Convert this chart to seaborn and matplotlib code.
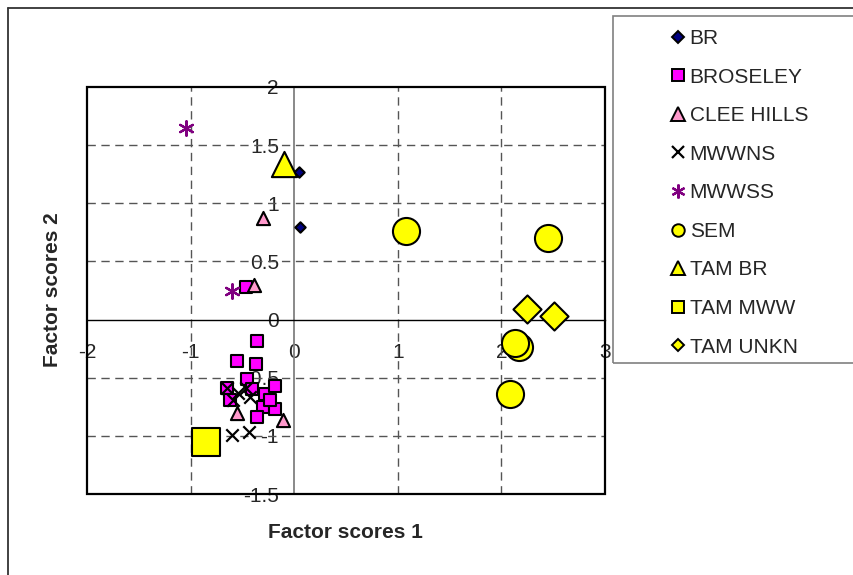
import pandas as pd
import matplotlib.pyplot as plt
import seaborn as sns
from matplotlib.lines import Line2D
from matplotlib.patches import Rectangle

# =====================
# DATA
# =====================
groups = ['BR', 'BROSELEY', 'CLEE HILLS', 'MWWNS', 'MWWSS',
          'SEM', 'TAM BR', 'TAM MWW', 'TAM UNKN']

br_x = [0.05, 0.055]
br_y = [1.27, 0.80]

broseley_x = [-0.36, -0.55, -0.37, -0.46, -0.65, -0.41, -0.28, -0.19,
              -0.62, -0.30, -0.19, -0.36, -0.23, -0.47]
broseley_y = [-0.18, -0.36, -0.38, -0.51, -0.59, -0.60, -0.64, -0.57,
              -0.69, -0.75, -0.77, -0.84, -0.69, 0.28]

clee_x = [-0.30, -0.39, -0.55, -0.11]
clee_y = [0.87, 0.30, -0.80, -0.86]

mwwns_x = [-0.65, -0.54, -0.47, -0.59, -0.43, -0.60, -0.44]
mwwns_y = [-0.59, -0.63, -0.59, -0.69, -0.67, -0.99, -0.97]

mwwss_x = [-1.04, -0.60]
mwwss_y = [1.65, 0.25]

sem_x = [1.08, 2.45, 2.17, 2.13, 2.08]
sem_y = [0.76, 0.70, -0.24, -0.20, -0.64]

tambr_x = [-0.10]
tambr_y = [1.34]

tammww_x = [-0.85]
tammww_y = [-1.05]

tamunkn_x = [2.25, 2.51]
tamunkn_y = [0.09, 0.03]

xticks = [-2, -1, 0, 1, 2, 3]
xtick_labels = ['-2', '-1', '0', '1', '2', '3']
yticks = [-1.5, -1, -0.5, 0, 0.5, 1, 1.5, 2]
ytick_labels = ['-1.5', '-1', '-0.5', '0', '0.5', '1', '1.5', '2']

all_x = [br_x, broseley_x, clee_x, mwwns_x, mwwss_x, sem_x, tambr_x, tammww_x, tamunkn_x]
all_y = [br_y, broseley_y, clee_y, mwwns_y, mwwss_y, sem_y, tambr_y, tammww_y, tamunkn_y]

rows = []
for g, xs, ys in zip(groups, all_x, all_y):
    for a, b in zip(xs, ys):
        rows.append({'group': g, 'f1': a, 'f2': b})
df = pd.DataFrame(rows)

# =====================
# STYLES
# =====================
asterisk = (6, 2, 0)
style = {
    'BR':         dict(marker='D', color='#000080', s=28,  ms=6),
    'BROSELEY':   dict(marker='s', color='#FF00FF', s=78,  ms=8.5),
    'CLEE HILLS': dict(marker='^', color='#FF99CC', s=90,  ms=9.5),
    'MWWNS':      dict(marker='x', color='black',   s=80,  ms=8.5),
    'MWWSS':      dict(marker=asterisk, color='#800080', s=110, ms=10),
    'SEM':        dict(marker='o', color='#FFFF00', s=380, ms=9),
    'TAM BR':     dict(marker='^', color='#FFFF00', s=330, ms=9.5),
    'TAM MWW':    dict(marker='s', color='#FFFF00', s=400, ms=8.5),
    'TAM UNKN':   dict(marker='D', color='#FFFF00', s=205, ms=6),
}
line_markers = ['x', asterisk]

sns.set_style('white')
plt.rcParams['font.family'] = ['Liberation Sans', 'DejaVu Sans']

fig = plt.figure(figsize=(8.54, 5.75), dpi=100)
ax = fig.add_axes([87 / 854, 1 - 494 / 575, 518 / 854, 407 / 575])

for g in groups:
    st = style[g]
    sub = df[df['group'] == g]
    if st['marker'] in line_markers:
        sns.scatterplot(data=sub, x='f1', y='f2', ax=ax, marker=st['marker'],
                        s=st['s'], color=st['color'], linewidth=1.6,
                        legend=False, zorder=3)
    else:
        sns.scatterplot(data=sub, x='f1', y='f2', ax=ax, marker=st['marker'],
                        s=st['s'], color=st['color'], edgecolor='black',
                        linewidth=1.5, legend=False, zorder=3)

ax.set_xlim(-2, 3)
ax.set_ylim(-1.5, 2)

# dashed grid
for v in [-1, 1, 2]:
    ax.axvline(v, color='#555555', lw=1, ls=(0, (6, 4)), zorder=1)
for v in [-1, -0.5, 0.5, 1, 1.5]:
    ax.axhline(v, color='#555555', lw=1, ls=(0, (6, 4)), zorder=1)

# axes crossing at the origin
for side in ['top', 'right']:
    ax.spines[side].set_visible(False)
ax.spines['left'].set_position(('data', 0))
ax.spines['bottom'].set_position(('data', 0))
ax.spines['left'].set_color('#808080')
ax.spines['left'].set_linewidth(1.3)
ax.spines['bottom'].set_color('black')
ax.spines['bottom'].set_linewidth(1)
ax.spines['left'].set_zorder(1.5)
ax.spines['bottom'].set_zorder(1.5)

ax.set_xticks(xticks, xtick_labels)
ax.set_yticks(yticks, ytick_labels)
ax.tick_params(axis='x', length=0, pad=17, labelsize=15)
ax.tick_params(axis='y', length=0, pad=11, labelsize=15)
ax.set_xlabel('')
ax.set_ylabel('')
ax.grid(False)

# plot area border
ax.add_patch(Rectangle((0, 0), 1, 1, transform=ax.transAxes, fill=False,
                       ec='black', lw=1.6, clip_on=False, zorder=4))

fig.text(345 / 854, 1 - 533 / 575, 'Factor scores 1', ha='center', va='center',
         fontsize=15, fontweight='bold')
fig.text(53 / 854, 1 - 290 / 575, 'Factor scores 2', ha='center', va='center',
         fontsize=15, fontweight='bold', rotation=90)

# outer chart border (left and top visible)
fig.add_artist(Line2D([8 / 854, 8 / 854], [0, 1 - 8 / 575], color='#333333', lw=1.3))
fig.add_artist(Line2D([8 / 854, 1], [1 - 8 / 575, 1 - 8 / 575], color='#333333', lw=1.3))

# legend
fig.add_artist(Rectangle((613 / 854, 1 - 363 / 575), 1, (363 - 16) / 575,
                         transform=fig.transFigure, fill=False, ec='#808080', lw=1.2))
handles = []
for g in groups:
    st = style[g]
    if st['marker'] in line_markers:
        h = Line2D([], [], ls='none', marker=st['marker'], ms=st['ms'],
                   color=st['color'], mew=1.6)
    else:
        h = Line2D([], [], ls='none', marker=st['marker'], ms=st['ms'],
                   mfc=st['color'], mec='black', mew=1.4)
    handles.append(h)
fig.legend(handles, groups, loc='upper left', bbox_to_anchor=(672 / 854, 1 - 29 / 575),
           frameon=False, fontsize=15, handlelength=0.6, handletextpad=0.25,
           labelspacing=0.94, borderpad=0, borderaxespad=0)

fig.savefig('out.png', dpi=100)
